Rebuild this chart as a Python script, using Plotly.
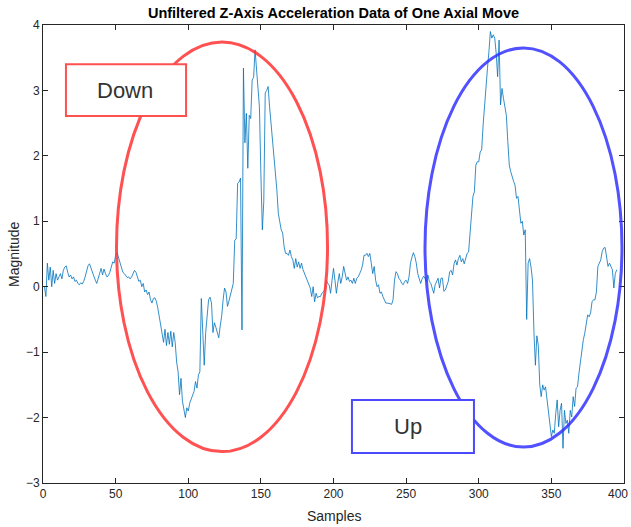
import plotly.graph_objects as go

# ---- data ----
rest_before = [0.0, -0.15, 0.36, 0.1, 0.3, 0.0, 0.25, 0.05, 0.2, 0.1,
               0.15, 0.2, 0.12, 0.25, 0.3, 0.32, 0.22, 0.15, 0.18, 0.12,
               0.15, 0.08, 0.1, 0.05, 0.03, 0.06, 0.04, 0.08, 0.15, 0.25,
               0.32, 0.35, 0.28, 0.22, 0.15, 0.1, 0.05, 0.12, 0.2, 0.28,
               0.18, 0.27, 0.2, 0.15, 0.17, 0.22, 0.3, 0.38, 0.36, 0.48]
down_move = [0.52, 0.45, 0.38, 0.3, 0.22, 0.2, 0.16, 0.14, 0.15, 0.12,
             0.15, 0.2, 0.25, 0.22, 0.15, 0.08, 0.1, 0.0, 0.05, -0.08,
             -0.05, -0.12, -0.08, -0.2, -0.25, -0.18, -0.17, -0.22, -0.32, -0.45,
             -0.6, -0.7, -0.85, -0.65, -0.9, -0.7, -0.88, -0.68, -0.92, -0.7,
             -0.85, -1.15, -1.3, -1.65, -1.4, -1.75, -1.9, -2.0, -1.85, -1.9,
             -1.78, -1.72, -1.65, -1.6, -1.45, -1.55, -1.35, -1.3, -0.18, -0.75,
             -1.2, -0.7, -0.4, -0.2, -0.16, -0.25, -0.7, -0.55, -0.62, -0.7,
             -0.78, -0.6, -0.45, -0.2, -0.02, -0.08, -0.3, -0.22, -0.12, 0.0,
             0.05, 0.71, 0.73, 1.58, 1.6, 1.66, -0.66, 3.34, 2.2, 2.65,
             1.81, 2.62, 2.57, 3.16, 3.2, 3.62, 3.37, 3.06, 2.75, 1.73,
             0.87, 1.3, 2.96, 3.0, 3.06, 2.75, 2.5, 2.25, 2.1, 1.78,
             1.48, 1.12, 0.97, 0.87, 0.82, 0.61, 0.51, 0.51, 0.48, 0.56,
             0.46, 0.41, 0.28, 0.43, 0.3, 0.38, 0.28, 0.36, 0.26, 0.2,
             0.15, 0.08, 0.03, -0.02, -0.15, 0.0, -0.23, -0.1, -0.17, -0.15]
rest_between = [-0.15, -0.1, -0.08, -0.05, 0.1, 0.05, 0.03, -0.1, 0.1, 0.28,
                0.1, -0.1, 0.07, 0.2, 0.05, 0.15, 0.31, 0.18, 0.1, 0.15,
                0.08, 0.1, 0.05, 0.13, 0.05, 0.13, 0.15, 0.2, 0.25, 0.33,
                0.48, 0.48, 0.51, 0.46, 0.51, 0.36, 0.2, 0.31, 0.1, 0.0,
                0.03, -0.1, -0.08, -0.15, -0.2, -0.25, -0.25, -0.25, -0.26, -0.27,
                -0.2, 0.1, 0.23, 0.2, 0.13, 0.1, 0.05, 0.03, 0.08, 0.1,
                0.05, 0.15, 0.36, 0.45, 0.52, 0.46, 0.36, 0.2, 0.1, 0.05,
                0.12, 0.16, 0.13, 0.08, 0.18, 0.08, 0.05, -0.02, -0.1, 0.03]
up_move = [0.08, 0.13, -0.02, 0.13, 0.13, -0.07, -0.05, 0.03, 0.08, 0.23,
           0.25, 0.18, 0.35, 0.41, 0.33, 0.43, 0.48, 0.38, 0.43, 0.35,
           0.43, 0.51, 0.53, 0.84, 1.04, 1.38, 1.45, 1.86, 1.91, 1.91,
           2.06, 2.09, 2.47, 2.78, 3.13, 3.34, 3.59, 3.9, 3.8, 3.85,
           3.8, 3.57, 3.21, 3.77, 2.78, 3.03, 2.88, 2.73, 2.62, 2.22,
           1.86, 1.76, 1.66, 1.61, 1.55, 1.35, 1.38, 1.2, 0.97, 1.0,
           0.79, 0.87, -0.5, 0.36, 0.43, 0.3, 0.1, -0.7, -1.2, -0.75,
           -0.9, -1.5, -1.68, -1.5, -1.58, -1.53, -1.73, -1.99, -2.09, -2.29,
           -2.19, -2.24, -1.94, -1.73, -2.14, -1.89, -1.78, -2.47, -1.89, -2.09,
           -2.04, -2.24, -1.89, -1.99, -1.68, -1.83, -1.55, -1.53, -1.32, -1.12,
           -1.02, -0.81, -0.71, -0.56, -0.43, -0.46, -0.4, -0.23, -0.2, -0.2,
           -0.08, 0.31, 0.36, 0.41, 0.54, 0.59, 0.6, 0.41, 0.31, 0.36,
           0.31, 0.26, -0.02, 0.2, 0.26]

magnitude = rest_before + down_move + rest_between + up_move
samples = list(range(1, len(magnitude) + 1))

x_ticks = [0, 50, 100, 150, 200, 250, 300, 350, 400]
x_tick_labels = ["0", "50", "100", "150", "200", "250", "300", "350", "400"]
y_ticks = [-3, -2, -1, 0, 1, 2, 3, 4]

title_text = "Unfiltered Z-Axis Acceleration Data of One Axial Move"
x_label = "Samples"
y_label = "Magnitude"
labels = ["Down", "Up"]

FONT = "Liberation Sans, Arial, Helvetica, sans-serif"
AX = "#262626"

W, H = 631, 527
ML, MR, MT, MB = 43, 7, 25, 44
plot_w = W - ML - MR
plot_h = H - MT - MB

fig = go.Figure()
fig.add_trace(go.Scatter(x=samples, y=magnitude, mode="lines",
                         line=dict(color="#0072BD", width=0.8),
                         showlegend=False, hoverinfo="skip"))

shapes = [
    dict(type="circle", xref="x", yref="y", x0=50.6, x1=195.9, y0=-2.52, y1=3.74,
         line=dict(color="rgba(255,50,50,0.85)", width=3)),
    dict(type="circle", xref="x", yref="y", x0=263, x1=398.6, y0=-2.45, y1=3.65,
         line=dict(color="rgba(50,50,255,0.85)", width=3)),
    dict(type="rect", xref="x", yref="y", x0=15.8, x1=98.5, y0=2.61, y1=3.40,
         fillcolor="white", line=dict(color="#ff5050", width=2)),
    dict(type="rect", xref="x", yref="y", x0=212.7, x1=296.7, y0=-2.54, y1=-1.73,
         fillcolor="white", line=dict(color="#4a4aff", width=2)),
]

# the last x tick label sits at the window edge: draw it as a right-aligned
# annotation so that it stays fully visible
tick_y = -(494 - (MT + plot_h)) / plot_h
annotations = [
    dict(x=56.5, y=3.0, xref="x", yref="y", text=labels[0], showarrow=False,
         font=dict(family=FONT, size=22, color="#333333")),
    dict(x=251.5, y=-2.14, xref="x", yref="y", text=labels[1], showarrow=False,
         font=dict(family=FONT, size=22, color="#333333")),
    dict(x=(W - 1 - ML) / plot_w, y=tick_y, xref="paper", yref="paper",
         text=x_tick_labels[-1], showarrow=False, xanchor="right", yanchor="middle",
         font=dict(family=FONT, size=12, color=AX)),
    dict(x=0.5, y=-(516 - (MT + plot_h)) / plot_h, xref="paper", yref="paper",
         text=x_label, showarrow=False, yanchor="middle",
         font=dict(family=FONT, size=14, color=AX)),
    dict(x=-(ML - 14) / plot_w, y=0.5, xref="paper", yref="paper", text=y_label,
         showarrow=False, textangle=-90, xanchor="center",
         font=dict(family=FONT, size=14, color=AX)),
]

fig.update_layout(
    width=W, height=H,
    margin=dict(l=ML, r=MR, t=MT, b=MB, autoexpand=False),
    paper_bgcolor="white", plot_bgcolor="white",
    title=dict(text="<b>" + title_text + "</b>",
               x=333.5 / W, xanchor="center",
               y=1 - 12.5 / H, yanchor="middle",
               font=dict(family=FONT, size=14.5, color="black")),
    shapes=shapes, annotations=annotations,
    xaxis=dict(range=[0, 400], tickvals=x_ticks,
               ticktext=x_tick_labels[:-1] + [""],
               ticks="inside", ticklen=5,
               tickcolor=AX, showline=True, linecolor=AX, linewidth=1,
               mirror="ticks", showgrid=False, zeroline=False,
               automargin=False,
               tickfont=dict(family=FONT, size=12, color=AX)),
    yaxis=dict(range=[-3, 4], tickvals=y_ticks, ticks="inside", ticklen=5,
               tickcolor=AX, showline=True, linecolor=AX, linewidth=1,
               mirror="ticks", showgrid=False, zeroline=False,
               automargin=False,
               tickfont=dict(family=FONT, size=12, color=AX)),
)

# remove the page's default body margin so the figure sits at the window's corner
fig.write_html("out.html",
               config={"displayModeBar": False},
               post_script="document.body.style.margin='0';"
                           "document.documentElement.style.overflow='hidden';")
